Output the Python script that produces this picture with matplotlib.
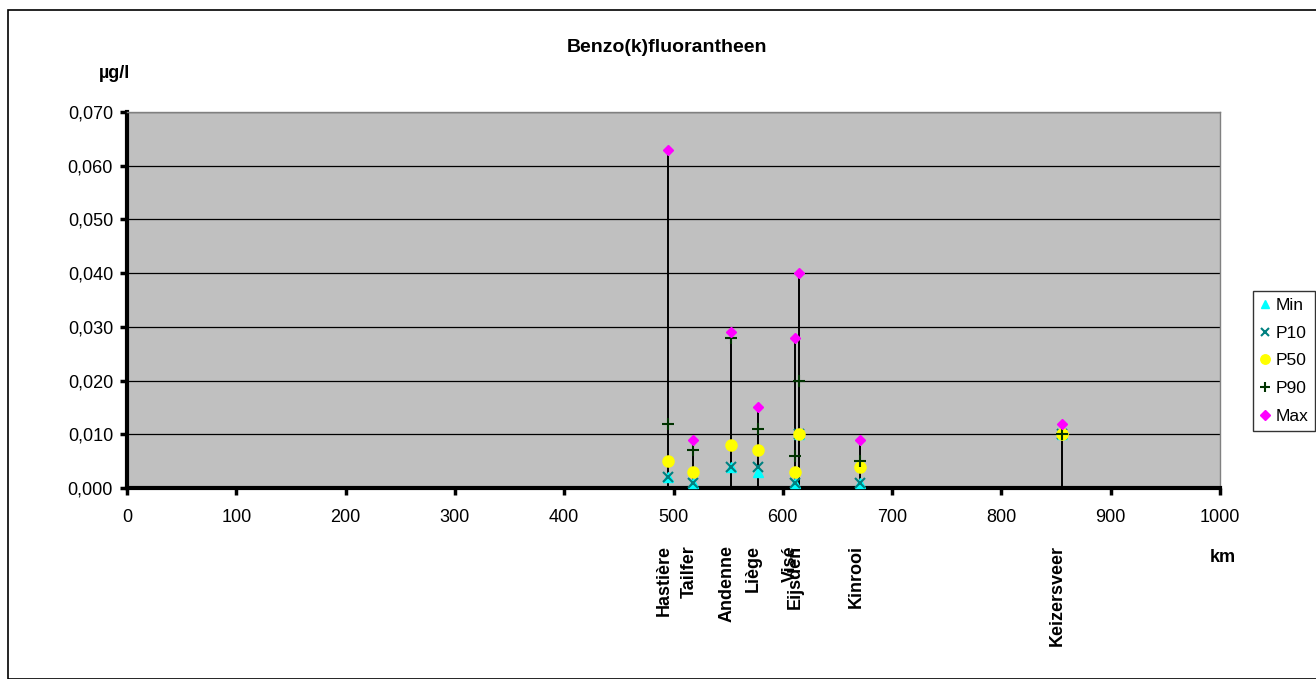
import matplotlib
matplotlib.use("Agg")
import matplotlib.pyplot as plt
import matplotlib.transforms as mtransforms
from matplotlib.patches import Rectangle

plt.rcParams['font.family'] = ['Liberation Sans', 'DejaVu Sans']

# Monitoring stations along the Meuse (river km) and concentration statistics (µg/l)
stations = ["Hastière", "Tailfer", "Andenne", "Liège", "Visé", "Eijsden", "Kinrooi", "Keizersveer"]
km = [495, 518, 553, 577, 611, 615, 671, 855]
v_min = [0.002, 0.001, 0.004, 0.003, 0.001, 0.010, 0.001, 0.010]
v_p10 = [0.002, 0.001, 0.004, 0.004, 0.001, 0.010, 0.001, 0.010]
v_p50 = [0.005, 0.003, 0.008, 0.007, 0.003, 0.010, 0.004, 0.010]
v_p90 = [0.012, 0.007, 0.028, 0.011, 0.006, 0.020, 0.005, 0.010]
v_max = [0.063, 0.009, 0.029, 0.015, 0.028, 0.040, 0.009, 0.012]

x_ticks = list(range(0, 1001, 100))
y_ticks = [0.000, 0.010, 0.020, 0.030, 0.040, 0.050, 0.060, 0.070]

W, H = 1316, 679
fig = plt.figure(figsize=(W / 100, H / 100), dpi=100)

# outer chart frame
fig.patches.append(Rectangle((8 / W, 0), 1.2, (H - 9.5) / H, transform=fig.transFigure,
                             fill=False, edgecolor='black', linewidth=1.2, zorder=0))

ax = fig.add_axes([127 / W, (H - 488) / H, (1220 - 127) / W, (488 - 112) / H])
ax.set_facecolor('#C0C0C0')
ax.set_xlim(0, 1000)
ax.set_ylim(0, 0.070)

ax.set_yticks(y_ticks)
ax.set_yticklabels([f"{v:.3f}".replace('.', ',') for v in y_ticks])
ax.set_xticks(x_ticks)
ax.set_xticklabels([str(v) for v in x_ticks])
ax.tick_params(axis='y', direction='out', length=5, width=2.5, pad=5, labelsize=13)
ax.tick_params(axis='x', direction='out', length=5, width=2.5, pad=10, labelsize=13)

ax.yaxis.grid(True, color='black', linewidth=0.9)
ax.set_axisbelow(True)

for side in ('left', 'bottom'):
    ax.spines[side].set_linewidth(3)
    ax.spines[side].set_color('black')
for side in ('top', 'right'):
    ax.spines[side].set_linewidth(1)
    ax.spines[side].set_color('#808080')

# drop lines from each maximum down to the axis
ax.vlines(km, 0, v_max, colors='black', linewidth=1.4, zorder=3)

ax.plot(km, v_min, linestyle='none', marker='^', ms=7, color='#00FFFF', label='Min', zorder=4, clip_on=False)
ax.plot(km, v_p10, linestyle='none', marker='x', ms=7, mew=1.5, color='#008080', label='P10', zorder=5, clip_on=False)
ax.plot(km, v_p50, linestyle='none', marker='o', ms=8, color='#FFFF00', label='P50', zorder=6, clip_on=False)
ax.plot(km, v_p90, linestyle='none', marker='+', ms=8, mew=1.5, color='#003300', label='P90', zorder=7, clip_on=False)
ax.plot(km, v_max, linestyle='none', marker='D', ms=5.6, color='#FF00FF', label='Max', zorder=8, clip_on=False)

# station names under the x axis
label_tr = mtransforms.offset_copy(ax.get_xaxis_transform(), fig=fig, x=-4, y=0, units='dots')
y_top = -(545 - 488) / (488 - 112)
for name, k in zip(stations, km):
    ax.text(k, y_top, name, transform=label_tr, rotation=90, ha='center', va='top',
            fontsize=13, fontweight='bold')

fig.text(667 / W, 1 - 48 / H, "Benzo(k)fluorantheen", ha='center', va='center',
         fontsize=14, fontweight='bold')
fig.text(115 / W, 1 - 74 / H, "µg/l", ha='center', va='center', fontsize=13, fontweight='bold')
fig.text(1223 / W, 1 - 557 / H, "km", ha='center', va='center', fontsize=13, fontweight='bold')

leg = fig.legend(loc='upper right', bbox_to_anchor=(1315 / W, 1 - 291 / H),
                 fontsize=12.5, frameon=True, fancybox=False, shadow=False,
                 handlelength=0.6, handletextpad=0.3, labelspacing=0.72,
                 borderpad=0.4, borderaxespad=0, markerscale=0.85)
leg.get_frame().set_edgecolor('black')
leg.get_frame().set_linewidth(1)

fig.savefig("out.png", dpi=100)
